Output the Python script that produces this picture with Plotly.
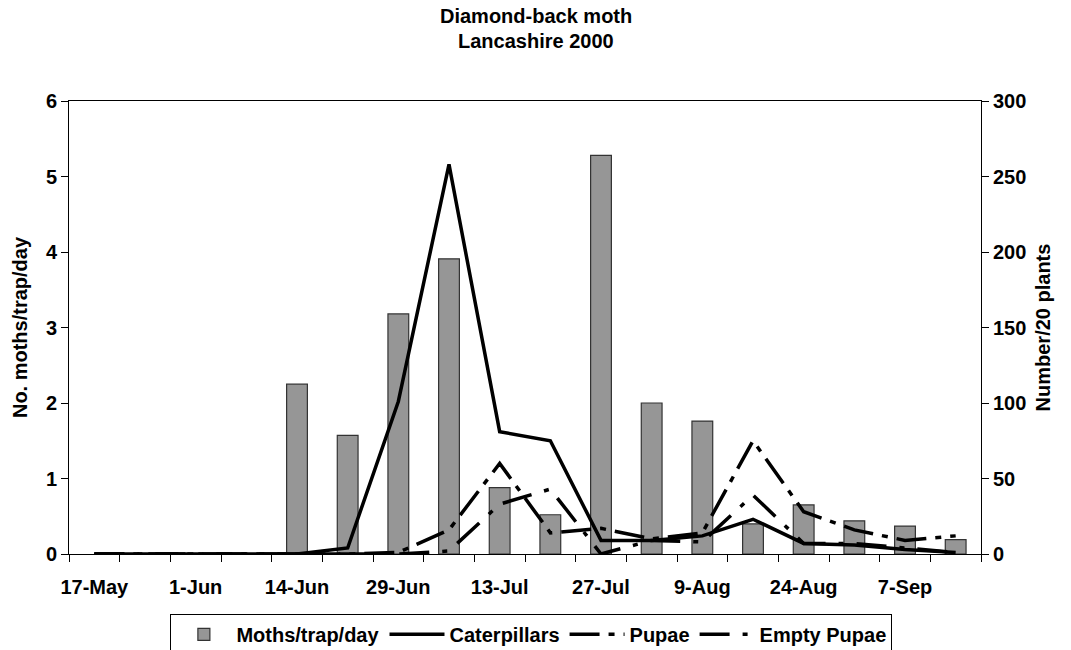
import plotly.graph_objects as go

# ---- data ----
dates = ["17-May", "24-May", "1-Jun", "7-Jun", "14-Jun", "21-Jun", "29-Jun", "6-Jul",
         "13-Jul", "20-Jul", "27-Jul", "2-Aug", "9-Aug", "16-Aug", "24-Aug", "31-Aug",
         "7-Sep", "14-Sep"]
tick_labels = ["17-May", "", "1-Jun", "", "14-Jun", "", "29-Jun", "", "13-Jul", "",
               "27-Jul", "", "9-Aug", "", "24-Aug", "", "7-Sep", ""]
moths = [None, None, None, None, 2.25, 1.57, 3.18, 3.91, 0.88, 0.52, 5.28, 2.0, 1.76,
         0.40, 0.65, 0.44, 0.37, 0.19]
caterpillars = [0, 0, 0, 0, 0, 4, 101, 258, 81, 75, 9, 9, 12, 23, 7, 6, 3, 1]
pupae = [0, 0, 0, 0, 0, 0, 1, 16, 60, 14, 17, 10, 14, 75, 28, 16, 9, 12]
empty_pupae = [0, 0, 0, 0, 0, 0, 0, 2, 33, 43, 0, 9, 8, 39, 7, 7, 4, 1]
title_lines = ["Diamond-back moth", "Lancashire 2000"]

FONT = "Liberation Sans, Arial, sans-serif"
bold = dict(family=FONT, size=20, color="black", weight="bold")

fig = go.Figure()
fig.add_trace(go.Bar(x=dates, y=moths, name="Moths/trap/day",
                     marker=dict(color="#969696", line=dict(color="#333333", width=1.2)),
                     yaxis="y"))
fig.add_trace(go.Scatter(x=dates, y=caterpillars, name="Caterpillars", mode="lines",
                         line=dict(color="black", width=3.5), yaxis="y2"))
fig.add_trace(go.Scatter(x=dates, y=pupae, name="Pupae", mode="lines",
                         line=dict(color="black", width=3.5, dash="30px,9px,6px,9px"),
                         yaxis="y2"))
fig.add_trace(go.Scatter(x=dates, y=empty_pupae, name="Empty Pupae", mode="lines",
                         line=dict(color="black", width=3.5, dash="30px,13px,5px,13px"),
                         yaxis="y2"))

# two-line title as separate annotations
for txt, ypos in zip(title_lines, [1.1876, 1.1335]):
    fig.add_annotation(text=txt, x=0.512, xref="paper", y=ypos, yref="paper",
                       xanchor="center", yanchor="middle", showarrow=False, font=bold)

fig.update_layout(
    width=1071, height=650,
    margin=dict(l=69, r=90, t=101, b=96, autoexpand=False),
    paper_bgcolor="white", plot_bgcolor="white",
    font=bold,
    bargap=0.59,
    xaxis=dict(type="category", tickmode="array", tickvals=dates, ticktext=tick_labels,
               tickson="boundaries", ticks="outside", ticklen=7, tickcolor="black",
               tickangle=0, ticklabelstandoff=15,
               showline=True, linecolor="black", linewidth=1, mirror=True,
               showgrid=False, tickfont=bold, range=[-0.5, len(dates) - 0.5]),
    yaxis=dict(range=[0, 6], dtick=1, ticks="outside", ticklen=7, tickcolor="black",
               showline=True, linecolor="black", linewidth=1, showgrid=False,
               zeroline=False, tickfont=bold,
               title=dict(text="No. moths/trap/day", font=bold, standoff=12)),
    yaxis2=dict(range=[0, 300], dtick=50, overlaying="y", side="right", ticks="outside",
                ticklen=7, tickcolor="black", showline=True, linecolor="black",
                linewidth=1, showgrid=False, zeroline=False, tickfont=bold,
                title=dict(text="Number/20 plants", font=bold, standoff=10)),
    legend=dict(orientation="h", x=0.507, xanchor="center", y=-0.132, yanchor="top",
                bordercolor="black", borderwidth=1, font=bold, traceorder="normal",
                itemwidth=55, tracegroupgap=0),
    showlegend=True,
)

fig.write_html("out.html", config={"displayModeBar": False},
               post_script="document.body.style.margin='0';document.body.style.overflow='hidden';")
